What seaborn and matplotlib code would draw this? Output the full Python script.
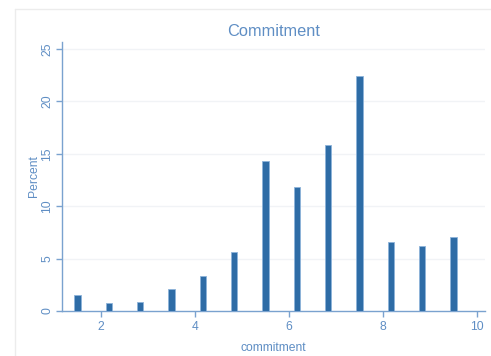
import matplotlib
matplotlib.use("Agg")
import matplotlib.pyplot as plt
import seaborn as sns
import pandas as pd
from matplotlib.lines import Line2D

# Data
commitment = [1.5, 2.167, 2.833, 3.5, 4.167, 4.833, 5.5, 6.167, 6.833, 7.5, 8.167, 8.833, 9.5]
percent = [1.49, 0.76, 0.86, 2.06, 3.34, 5.63, 14.34, 11.83, 15.8, 22.42, 6.61, 6.2, 7.09]
xticks = [2, 4, 6, 8, 10]
yticks = [0, 5, 10, 15, 20, 25]

df = pd.DataFrame({"commitment": commitment, "Percent": percent})

sns.set_theme(style="white")
plt.rcParams["font.family"] = ["Liberation Sans", "DejaVu Sans"]

axis_col = "#7aa2cf"
text_col = "#5f8ec4"
bar_col = "#2e6ca6"

fig = plt.figure(figsize=(4.91, 3.56), dpi=100)
fig.patch.set_facecolor("white")
fx, fy = 14.5 / 491, 1 - 8.5 / 356
fig.add_artist(Line2D([fx, 1.0], [fy, fy], transform=fig.transFigure, color="#ececec", linewidth=1.0))
fig.add_artist(Line2D([fx, fx], [0.0, fy], transform=fig.transFigure, color="#ececec", linewidth=1.0))

ax = fig.add_axes([62.3 / 491, 1 - 311 / 356, (485 - 62.3) / 491, (311 - 42) / 356])
sns.barplot(data=df, x="commitment", y="Percent", native_scale=True, width=0.2,
            color=bar_col, saturation=1, edgecolor="#8db3da", linewidth=0.6, ax=ax, zorder=3)

ax.set_xlim(1.177, 10.17)
ax.set_ylim(0, 25.67)
ax.set_xticks(xticks)
ax.set_yticks(yticks)
ax.set_xticklabels([str(t) for t in xticks])
ax.set_yticklabels([str(t) for t in yticks], rotation=90, va="center")

for t in yticks[1:]:
    ax.axhline(t, color="#f1f3f6", linewidth=1.0, zorder=1)

for s in ["top", "right"]:
    ax.spines[s].set_visible(False)
for s in ["left", "bottom"]:
    ax.spines[s].set_color(axis_col)
    ax.spines[s].set_linewidth(1.0)

ax.tick_params(axis="both", colors=axis_col, labelcolor=text_col, labelsize=8.7,
               length=4.5, width=1.0, direction="out", left=True, bottom=True)
ax.tick_params(axis="y", pad=2)
ax.tick_params(axis="x", pad=3)

ax.set_xlabel("commitment", color=text_col, fontsize=8.7, labelpad=6)
ax.set_ylabel("Percent", color=text_col, fontsize=8.7, labelpad=1)
ax.set_title("Commitment", color=text_col, fontsize=11.8, pad=4)
ax.set_facecolor("white")

fig.savefig("out.png", dpi=100, facecolor="white")
